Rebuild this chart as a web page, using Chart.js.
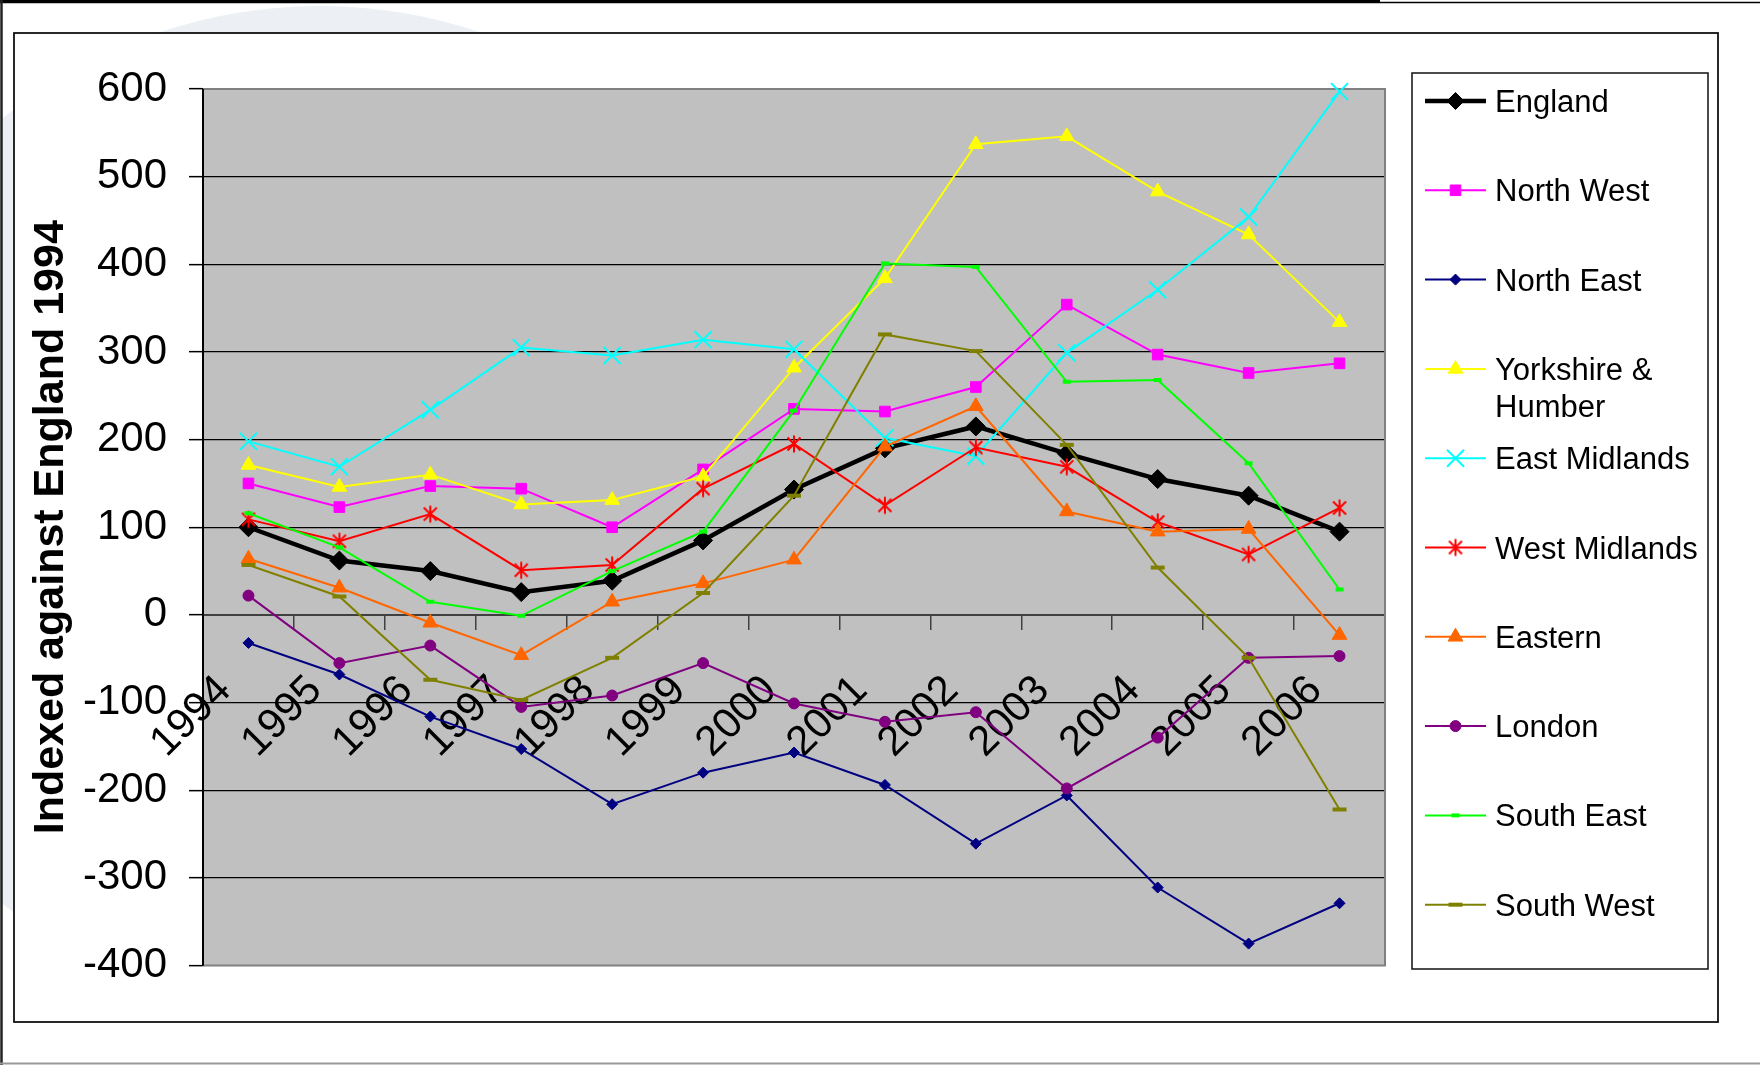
<!DOCTYPE html>
<html>
<head>
<meta charset="utf-8">
<style>
html,body{margin:0;padding:0;background:#fff;overflow:hidden}
#wrap{position:relative;width:1760px;height:1065px}
</style>
<script src="https://cdn.jsdelivr.net/npm/chart.js@4.4.1/dist/chart.umd.min.js"></script>
</head>
<body>
<div id="wrap"><canvas id="c"></canvas></div>
<script>
// ---- data ----
const years = ['1994','1995','1996','1997','1998','1999','2000','2001','2002','2003','2004','2005','2006'];
const yTicks = [-400,-300,-200,-100,0,100,200,300,400,500,600];
const yTitle = 'Indexed against England 1994';

const england       = [100, 62, 50, 26, 39, 85, 143, 190, 215, 184, 155, 136, 95];
const northWest     = [150, 123, 147, 144, 100, 166, 235, 232, 260, 354, 297, 276, 287];
const northEast     = [-32, -68, -116, -153, -216, -180, -157, -194, -261, -206, -311, -375, -329];
const yorkshire     = [171, 146, 160, 126, 131, 158, 282, 384, 537, 546, 483, 434, 334];
const eastMidlands  = [198, 169, 234, 305, 296, 314, 303, 202, 181, 299, 371, 454, 597];
const westMidlands  = [109, 84, 115, 51, 57, 144, 195, 125, 191, 169, 106, 69, 122];
const eastern       = [64, 31, -9, -46, 15, 36, 63, 192, 238, 118, 95, 98, -23];
const london        = [22, -55, -35, -105, -92, -55, -101, -122, -111, -198, -140, -49, -47];
const southEast     = [116, 77, 15, -1, 50, 95, 233, 401, 397, 266, 268, 173, 29];
const southWest     = [57, 21, -74, -97, -49, 25, 136, 320, 301, 194, 54, -49, -222];

const seriesNames = ['England','North West','North East','Yorkshire & Humber','East Midlands','West Midlands','Eastern','London','South East','South West'];
const legendLines = [['England'],['North West'],['North East'],['Yorkshire &','Humber'],['East Midlands'],['West Midlands'],['Eastern'],['London'],['South East'],['South West']];

// ---- styling ----
const FONT = '"Liberation Sans", Arial, sans-serif';
Chart.defaults.font.family = FONT;
Chart.defaults.color = '#000';

function makeStar(color){
  const c = document.createElement('canvas');
  c.width = 20; c.height = 20;
  const g = c.getContext('2d');
  g.strokeStyle = color; g.lineWidth = 2;
  g.beginPath();
  g.moveTo(3.5,3.5); g.lineTo(16.5,16.5);
  g.moveTo(16.5,3.5); g.lineTo(3.5,16.5);
  g.moveTo(10,1.5); g.lineTo(10,18.5);
  g.stroke();
  return c;
}
const starRed = makeStar('#FF0000');

const styles = [
  {color:'#000000', width:4.5, point:'rectRot', r:9.5, pbw:1},
  {color:'#FF00FF', width:2, point:'rect', r:7.5, pbw:1},
  {color:'#000080', width:2, point:'rectRot', r:5.5, pbw:1},
  {color:'#FFFF00', width:2, point:'triangle', r:8.5, pbw:1},
  {color:'#00FFFF', width:2, point:'crossRot', r:12, pbw:2},
  {color:'#FF0000', width:2, point:starRed, r:9, pbw:2},
  {color:'#FF6600', width:2, point:'triangle', r:8.5, pbw:1},
  {color:'#800080', width:2, point:'circle', r:5.5, pbw:1},
  {color:'#00FF00', width:2, point:'line', r:4, pbw:4},
  {color:'#808000', width:2, point:'line', r:7, pbw:4}
];
const seriesData = [england, northWest, northEast, yorkshire, eastMidlands, westMidlands, eastern, london, southEast, southWest];

const datasets = seriesData.map((d,i)=>({
  label: seriesNames[i],
  data: d,
  borderColor: styles[i].color,
  backgroundColor: styles[i].color,
  pointBackgroundColor: styles[i].color,
  pointBorderColor: styles[i].color,
  borderWidth: styles[i].width,
  pointStyle: styles[i].point,
  pointRadius: styles[i].r,
  pointHoverRadius: styles[i].r,
  pointBorderWidth: styles[i].pbw,
  tension: 0,
  clip: false,
  order: 20 - i
}));

function drawMarker(ctx, s, x, y){
  const r = s.r, st = s.point;
  ctx.save();
  ctx.fillStyle = s.color; ctx.strokeStyle = s.color; ctx.lineWidth = s.pbw;
  if (typeof st !== 'string') {
    ctx.drawImage(st, x - st.width/2, y - st.height/2);
    ctx.restore(); return;
  }
  ctx.beginPath();
  if (st === 'rectRot') {
    ctx.moveTo(x-r,y); ctx.lineTo(x,y-r); ctx.lineTo(x+r,y); ctx.lineTo(x,y+r); ctx.closePath(); ctx.fill(); ctx.stroke();
  } else if (st === 'rect') {
    const h = r*Math.SQRT1_2; ctx.rect(x-h,y-h,2*h,2*h); ctx.fill(); ctx.stroke();
  } else if (st === 'triangle') {
    ctx.moveTo(x, y-r); ctx.lineTo(x+Math.sin(2*Math.PI/3)*r, y-Math.cos(2*Math.PI/3)*r);
    ctx.lineTo(x+Math.sin(4*Math.PI/3)*r, y-Math.cos(4*Math.PI/3)*r); ctx.closePath(); ctx.fill(); ctx.stroke();
  } else if (st === 'crossRot') {
    const h = r*Math.SQRT1_2; ctx.moveTo(x-h,y-h); ctx.lineTo(x+h,y+h); ctx.moveTo(x+h,y-h); ctx.lineTo(x-h,y+h); ctx.stroke();
  } else if (st === 'circle') {
    ctx.arc(x,y,r,0,Math.PI*2); ctx.fill(); ctx.stroke();
  } else if (st === 'line') {
    ctx.moveTo(x-r,y); ctx.lineTo(x+r,y); ctx.stroke();
  }
  ctx.restore();
}

const framePlugin = {
  id: 'frame',
  beforeDraw(chart){
    const ctx = chart.ctx, W = chart.width, H = chart.height;
    ctx.save();
    ctx.fillStyle = '#fff'; ctx.fillRect(0,0,W,H);
    // pale decorative circle of the slide background
    ctx.fillStyle = '#ECF0F5';
    ctx.beginPath(); ctx.arc(320,511,505,0,Math.PI*2); ctx.fill();
    // slide frame lines
    ctx.strokeStyle = '#000';
    ctx.lineWidth = 3.5; ctx.beginPath(); ctx.moveTo(0,1.5); ctx.lineTo(1380,1.5); ctx.stroke();
    ctx.lineWidth = 1.5; ctx.beginPath(); ctx.moveTo(1380,2.5); ctx.lineTo(W,2.5); ctx.stroke();
    ctx.strokeStyle = '#222'; ctx.lineWidth = 2.5; ctx.beginPath(); ctx.moveTo(1.5,0); ctx.lineTo(1.5,H); ctx.stroke();
    ctx.strokeStyle = '#999'; ctx.lineWidth = 2; ctx.beginPath(); ctx.moveTo(0,1063.5); ctx.lineTo(W,1063.5); ctx.stroke();
    // chart area (white box)
    ctx.fillStyle = '#fff'; ctx.fillRect(14,33,1704,989);
    ctx.strokeStyle = '#111'; ctx.lineWidth = 1.8; ctx.strokeRect(14,33,1704,989);
    // plot background
    const a = chart.chartArea;
    ctx.fillStyle = '#C0C0C0';
    ctx.fillRect(a.left, a.top, a.right - a.left, a.bottom - a.top);
    ctx.restore();
  },
  beforeDatasetsDraw(chart){
    const ctx = chart.ctx, a = chart.chartArea;
    ctx.save();
    ctx.strokeStyle = '#808080'; ctx.lineWidth = 2;
    ctx.beginPath();
    ctx.moveTo(a.left, a.top); ctx.lineTo(a.right, a.top); ctx.lineTo(a.right, a.bottom); ctx.lineTo(a.left, a.bottom);
    ctx.stroke();
    ctx.strokeStyle = '#000'; ctx.lineWidth = 2;
    ctx.beginPath(); ctx.moveTo(a.left, a.top); ctx.lineTo(a.left, a.bottom); ctx.stroke();
    ctx.restore();
  },
  afterDraw(chart){
    const ctx = chart.ctx;
    ctx.save();
    // legend box
    ctx.fillStyle = '#fff'; ctx.fillRect(1412,73,296,896);
    ctx.strokeStyle = '#111'; ctx.lineWidth = 1.5; ctx.strokeRect(1412,73,296,896);
    ctx.font = '31px ' + FONT;
    ctx.textBaseline = 'alphabetic';
    ctx.textAlign = 'left';
    for (let i = 0; i < legendLines.length; i++) {
      const y = 101 + i*89.3;
      const s = styles[i];
      ctx.strokeStyle = s.color; ctx.lineWidth = s.width;
      ctx.beginPath(); ctx.moveTo(1425,y); ctx.lineTo(1486,y); ctx.stroke();
      drawMarker(ctx, i === 0 ? Object.assign({}, s, {r:8.5}) : s, 1455.5, y);
      ctx.fillStyle = '#000';
      legendLines[i].forEach((t,k)=>{ ctx.fillText(t, 1495, y + 11 + k*37); });
    }
    ctx.restore();
  }
};

new Chart(document.getElementById('c'), {
  type: 'line',
  data: { labels: years, datasets },
  options: {
    responsive: true,
    maintainAspectRatio: false,
    animation: false,
    devicePixelRatio: 1,
    layout: { padding: { left: 10, top: 89, right: 375, bottom: 99.5 } },
    plugins: { legend: { display: false }, tooltip: { enabled: false } },
    scales: {
      y: {
        min: -400, max: 600,
        afterBuildTicks(s){ s.ticks = yTicks.map(v=>({value:v})); },
        ticks: { color:'#000', font:{ size:42 }, padding:22 },
        grid: {
          color: c => (c.tick && (c.tick.value === 600 || c.tick.value === -400)) ? 'rgba(0,0,0,0)' : '#000',
          lineWidth: 1.3, tickLength: 14, tickColor: '#000', tickWidth: 1.5
        },
        border: { display:true, color:'#000', width:2 },
        title: { display:true, text: yTitle, color:'#000', font:{ size:43, weight:'bold' }, padding:{ top:15, bottom:0 } },
        afterFit(s){ s.width = 193; }
      },
      x: {
        type: 'category',
        offset: true,
        position: { y: 0 },
        grid: { drawOnChartArea:false, drawTicks:true, tickLength:14, offset:true, color:'#404040', lineWidth:1.5 },
        border: { display:true, color:'#404040', width:2 },
        ticks: { color:'#000', font:{ size:42 }, maxRotation:45, minRotation:45, autoSkip:false, padding:37, labelOffset:-24 },
        afterFit(s){ s.height = 0; }
      }
    }
  },
  plugins: [framePlugin]
});
</script>
</body>
</html>
